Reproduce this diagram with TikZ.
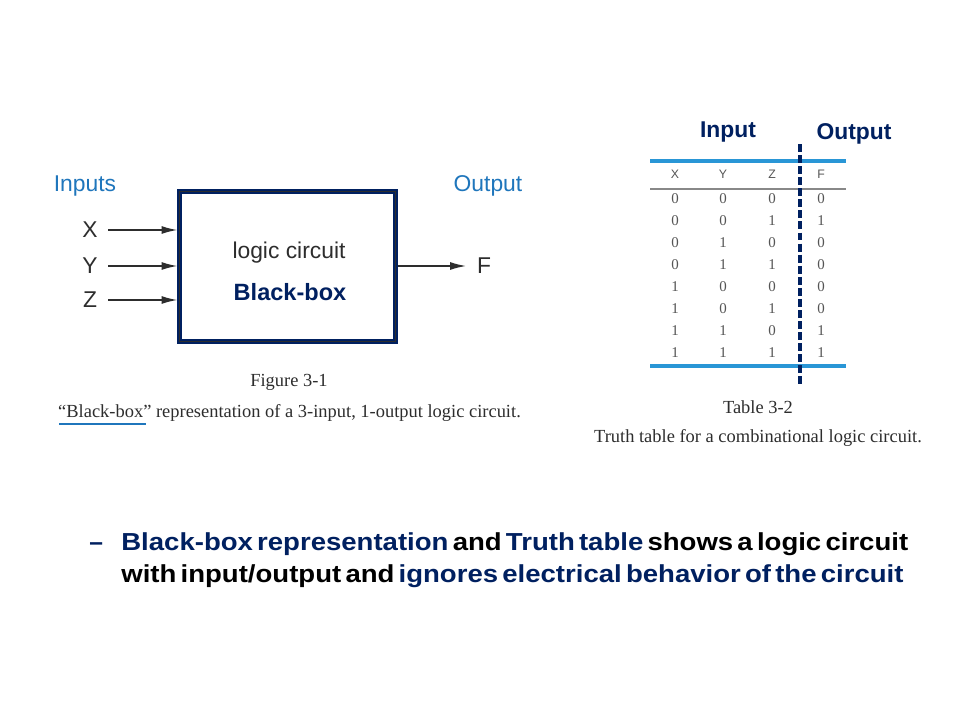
\documentclass[tikz,border=0pt]{standalone}
\usepackage{fontspec}
\setmainfont{Liberation Serif}
\newfontfamily\arial{Liberation Sans}
\newfontfamily\widebold[FakeStretch=1.12,WordSpace=0.55]{Liberation Sans}
\usetikzlibrary{arrows.meta,calc}
\definecolor{navy}{RGB}{0,32,96}
\definecolor{hblue}{RGB}{31,118,188}
\definecolor{lblue}{RGB}{41,150,214}
\definecolor{txtgray}{RGB}{45,45,45}
\definecolor{dgray}{RGB}{85,85,85}
\tikzset{
  lbl/.style={inner sep=0pt, font=\arial\fontsize{13}{15}\selectfont, text=txtgray},
  head/.style={inner sep=0pt, font=\arial\fontsize{13}{15}\selectfont, text=hblue},
  bold/.style={inner sep=0pt, font=\arial\bfseries\fontsize{13.4}{15}\selectfont, text=navy},
  captxt/.style={inner sep=0pt, font=\fontsize{10.5}{12}\selectfont, text=txtgray},
  col/.style={inner sep=0pt, font=\arial\fontsize{7}{8}\selectfont, text=dgray},
  digit/.style={inner sep=0pt, font=\fontsize{8.5}{10}\selectfont, text=dgray},
  arr/.style={-{Latex[length=9pt,width=4.5pt]}, line width=0.8pt, draw=txtgray},
  bullet/.style={inner sep=0pt, anchor=base west, font=\widebold\bfseries\fontsize{14}{16}\selectfont},
}
\begin{document}
\begin{tikzpicture}[x=0.02cm, y=-0.02cm]
  \path[use as bounding box, fill=white] (0,0) rectangle (960,720);

  % black box figure
  \node[head] (inputs) at (85,186) {Inputs};
  \node[head] (output) at (488,186) {Output};
  \node[draw=navy, line width=2.4pt, minimum width=216*0.02cm, minimum height=150*0.02cm, inner sep=0pt] (box) at (287.5,266.5) {};
  \draw[line width=0.5pt, txtgray] ($(box.north west)+(2.4,2.4)$) rectangle ($(box.south east)+(-2.4,-2.4)$);
  \node[lbl] (logic) at (289,253) {logic circuit};
  \node[bold] (bbox) at (290,292) {Black-box};
  \node[lbl] (lx) at (90,230) {X};
  \node[lbl] (ly) at (90,266) {Y};
  \node[lbl] (lz) at (90,300) {Z};
  \node[lbl] (lf) at (484,266) {F};
  \draw[arr] (108,230) -- (lx -| box.west);
  \draw[arr] (108,266) -- (ly -| box.west);
  \draw[arr] (108,300) -- (lz -| box.west);
  \draw[arr] (lf -| box.east) -- (466,266);
  \node[captxt] (fig) at (289,382) {Figure 3-1};
  \node[captxt] (figcap) at (289.5,413) {``Black-box'' representation of a 3-input, 1-output logic circuit.};
  \coordinate (ul1) at (59,424);
  \coordinate (ul2) at (146,424);
  \draw[hblue, line width=1.3pt] (ul1) -- (ul2);

  % truth table
  \node[bold, font=\arial\bfseries\fontsize{13}{15}\selectfont] (tin) at (728,132) {Input};
  \node[bold, font=\arial\bfseries\fontsize{13}{15}\selectfont] (tout) at (854,134) {Output};
  \coordinate (t1) at (650,161);
  \coordinate (t2) at (846,161);
  \coordinate (m1) at (650,189);
  \coordinate (m2) at (846,189);
  \coordinate (b1) at (650,366);
  \coordinate (b2) at (846,366);
  \draw[lblue, line width=1.8pt] (t1) -- (t2);
  \draw[dgray!70, line width=0.6pt] (m1) -- (m2);
  \draw[lblue, line width=1.8pt] (b1) -- (b2);
  \node[col] (cx) at (675,174) {X};
  \node[col] (cy) at (723,174) {Y};
  \node[col] (cz) at (772,174) {Z};
  \node[col] (cf) at (821,174) {F};
  \foreach \vx/\vy/\vz/\vf [count=\i] in {0/0/0/0, 0/0/1/1, 0/1/0/0, 0/1/1/0, 1/0/0/0, 1/0/1/0, 1/1/0/1, 1/1/1/1} {
    \node[digit] (x\i) at (675,177+22*\i) {\vx};
    \node[digit] (y\i) at (723,177+22*\i) {\vy};
    \node[digit] (z\i) at (772,177+22*\i) {\vz};
    \node[digit] (f\i) at (821,177+22*\i) {\vf};
  }
  \coordinate (d1) at (800,144);
  \coordinate (d2) at (800,385);
  \draw[navy, line width=1.9pt, dash pattern=on 4.5pt off 1.8pt] (d1) -- (d2);
  \node[captxt] (tab) at (758,407) {Table 3-2};
  \node[captxt] (tabcap) at (758,438) {Truth table for a combinational logic circuit.};

  % bullet text
  \node[bullet, font=\arial\bfseries\fontsize{14}{16}\selectfont, text=navy] (dash) at (89,550) {–};
  \node[bullet] (line1) at (121,550)
    {\textcolor{navy}{Black-box representation} and \textcolor{navy}{Truth table} shows a logic circuit};
  \node[bullet] (line2) at (121,582)
    {with input/output and \textcolor{navy}{ignores electrical behavior of the circuit}};
\end{tikzpicture}
\end{document}
